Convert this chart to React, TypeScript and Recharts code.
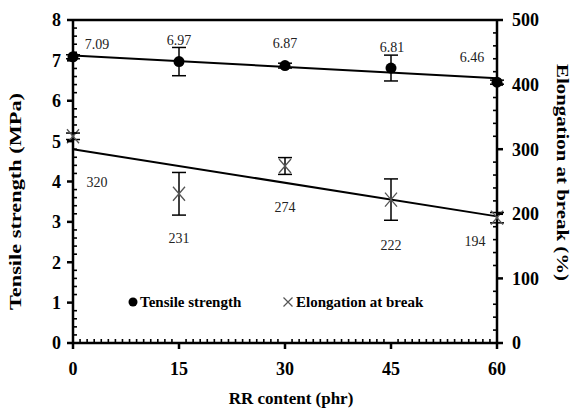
import React from 'react';
import {
  ComposedChart,
  XAxis,
  YAxis,
  Scatter,
  Line,
  ErrorBar,
  LabelList,
  ReferenceLine,
  Legend,
  Label,
} from 'recharts';

// ---- data ----
const rrContent = [0, 15, 30, 45, 60];
const tensileStrength = [7.09, 6.97, 6.87, 6.81, 6.46];
const tensileError = [0.05, 0.35, 0.06, 0.32, 0.05];
const elongation = [320, 231, 274, 222, 194];
const elongationError = [5, 33, 13, 32, 8];
const trendX = [0, 60];
const tensileTrend = [7.12, 6.56];
const elongationTrend = [300, 196];

// ---- ticks (major ticks carry labels, the rest are minor marks) ----
const xMajorTicks = [0, 15, 30, 45, 60];
const leftMajorTicks = [0, 1, 2, 3, 4, 5, 6, 7, 8];
const rightMajorTicks = [0, 100, 200, 300, 400, 500];
const xAllTicks = Array.from({ length: 61 }, (_, i) => i);
const leftAllTicks = Array.from({ length: 41 }, (_, i) => Math.round(i * 2) / 10);
const rightAllTicks = Array.from({ length: 26 }, (_, i) => i * 20);

// ---- label offsets (style) ----
const tsLabelOffset = [
  [24, -12],
  [0, -21],
  [0, -22],
  [1, -21],
  [-25, -25],
];
const elLabelOffset = [
  [24, 46],
  [0, 45],
  [0, 42],
  [0, 46],
  [-22, 24],
];

const tsData = rrContent.map((x, i) => ({ x, y: tensileStrength[i], err: tensileError[i] }));
const elData = rrContent.map((x, i) => ({ x, y: elongation[i], err: elongationError[i] }));
const trendData = trendX.map((x, i) => ({ x, ts: tensileTrend[i], el: elongationTrend[i] }));

const SERIF = '"Liberation Serif", "Times New Roman", serif';
const TICK_SIZE = 6;
const MINOR_SIZE = 4;
const X_MARGIN = 13;
const L_MARGIN = 6;
const R_MARGIN = 9;
const TICK_COLOR = '#000';

const isMajor = (v: number, majors: number[]) => majors.some((m) => Math.abs(m - v) < 1e-6);

const XTick = (p: any) => {
  const v = p.payload.value;
  const ax = Number(p.x);
  const ay = Number(p.y) - TICK_SIZE - X_MARGIN;
  const major = isMajor(v, xMajorTicks);
  return (
    <g>
      <line
        x1={ax}
        x2={ax}
        y1={major ? ay : ay - MINOR_SIZE}
        y2={major ? ay + TICK_SIZE : ay}
        stroke={TICK_COLOR}
        strokeWidth={major ? 2.5 : 1.6}
      />
      {major ? (
        <text x={ax} y={p.y} dy="0.71em" textAnchor="middle" fontFamily={SERIF} fontWeight="bold" fontSize={18} fill="#000">
          {v}
        </text>
      ) : null}
    </g>
  );
};

const LeftTick = (p: any) => {
  const v = p.payload.value;
  const ay = Number(p.y);
  const ax = Number(p.x) + TICK_SIZE + L_MARGIN;
  const major = isMajor(v, leftMajorTicks);
  return (
    <g>
      <line
        x1={major ? ax - TICK_SIZE : ax}
        x2={major ? ax : ax + MINOR_SIZE}
        y1={ay}
        y2={ay}
        stroke={TICK_COLOR}
        strokeWidth={major ? 2.5 : 1.6}
      />
      {major ? (
        <text x={p.x} y={ay} dy="0.355em" textAnchor="end" fontFamily={SERIF} fontWeight="bold" fontSize={18} fill="#000">
          {v}
        </text>
      ) : null}
    </g>
  );
};

const RightTick = (p: any) => {
  const v = p.payload.value;
  const ay = Number(p.y);
  const ax = Number(p.x) - TICK_SIZE - R_MARGIN;
  const major = isMajor(v, rightMajorTicks);
  return (
    <g>
      <line
        x1={major ? ax : ax - MINOR_SIZE}
        x2={major ? ax + TICK_SIZE : ax}
        y1={ay}
        y2={ay}
        stroke={TICK_COLOR}
        strokeWidth={major ? 2.5 : 1.6}
      />
      {major ? (
        <text x={p.x} y={ay} dy="0.355em" textAnchor="start" fontFamily={SERIF} fontWeight="bold" fontSize={18} fill="#000">
          {v}
        </text>
      ) : null}
    </g>
  );
};

const circleShape = (p: any) => <circle cx={p.cx} cy={p.cy} r={5.5} fill="#000" />;
const crossShape = (p: any) => (
  <path
    d={`M${p.cx - 6},${p.cy - 7}L${p.cx + 6},${p.cy + 7}M${p.cx - 6},${p.cy + 7}L${p.cx + 6},${p.cy - 7}`}
    stroke="#555"
    strokeWidth={1.3}
    fill="none"
  />
);

const makeLabel = (offsets: number[][]) => (p: any) => {
  const cx = p.x + (p.width || 0) / 2;
  const cy = p.y + (p.height || 0) / 2;
  const o = offsets[p.index] || [0, 0];
  return (
    <text
      x={cx + o[0]}
      y={cy + o[1]}
      textAnchor="middle"
      dominantBaseline="central"
      fontFamily={SERIF}
      fontSize={14}
      fill="#222"
    >
      {p.value}
    </text>
  );
};

const renderLegend = () => (
  <div style={{ position: 'relative', width: 571, height: 20, fontFamily: SERIF, fontWeight: 'bold', fontSize: 15, color: '#000' }}>
    <div style={{ position: 'absolute', left: 128, top: 0, height: 20, display: 'flex', alignItems: 'center', whiteSpace: 'nowrap' }}>
      <svg width={10} height={10}>
        <circle cx={5} cy={5} r={4.5} fill="#000" />
      </svg>
      <span style={{ marginLeft: 2 }}>Tensile strength</span>
    </div>
    <div style={{ position: 'absolute', left: 283, top: 0, height: 20, display: 'flex', alignItems: 'center', whiteSpace: 'nowrap' }}>
      <svg width={10} height={10}>
        <path d="M0.5,0.5L9.5,9.5M0.5,9.5L9.5,0.5" stroke="#555" strokeWidth={1.2} fill="none" />
      </svg>
      <span style={{ marginLeft: 3 }}>Elongation at break</span>
    </div>
  </div>
);

export default function App() {
  return (
    <div style={{ position: 'absolute', left: 0, top: 0, background: '#fff' }}>
      <ComposedChart width={571} height={419} margin={{ top: 20, right: 0, bottom: 0, left: 0 }}>
        <XAxis
          type="number"
          dataKey="x"
          domain={[0, 60]}
          ticks={xAllTicks}
          interval={0}
          height={76}
          tickSize={TICK_SIZE}
          tickMargin={X_MARGIN}
          axisLine={{ stroke: '#000', strokeWidth: 2.5 }}
          tickLine={{ stroke: 'none' }}
          tick={XTick}
        >
          <Label
            content={(p: any) => {
              const vb = p.viewBox;
              return (
                <text
                  x={vb.x + vb.width / 2 + 6}
                  y={vb.y + 55}
                  textAnchor="middle"
                  dominantBaseline="central"
                  fontFamily={SERIF}
                  fontWeight="bold"
                  fontSize={17}
                  fill="#000"
                >
                  RR content (phr)
                </text>
              );
            }}
          />
        </XAxis>
        <YAxis
          yAxisId="left"
          dataKey="y"
          type="number"
          domain={[0, 8]}
          ticks={leftAllTicks}
          interval={0}
          width={73}
          tickSize={TICK_SIZE}
          tickMargin={L_MARGIN}
          axisLine={{ stroke: '#000', strokeWidth: 2.5 }}
          tickLine={{ stroke: 'none' }}
          tick={LeftTick}
        >
          <Label
            content={(p: any) => {
              const vb = p.viewBox;
              const x = vb.x + 15;
              const y = vb.y + vb.height / 2 + 20;
              return (
                <text
                  x={x}
                  y={y}
                  transform={`rotate(-90 ${x} ${y})`}
                  textAnchor="middle"
                  dominantBaseline="central"
                  fontFamily={SERIF}
                  fontWeight="bold"
                  fontSize={17}
                  fill="#000"
                  textLength={217}
                  lengthAdjust="spacingAndGlyphs"
                >
                  Tensile strength (MPa)
                </text>
              );
            }}
          />
        </YAxis>
        <YAxis
          yAxisId="right"
          orientation="right"
          dataKey="y"
          type="number"
          domain={[0, 500]}
          ticks={rightAllTicks}
          interval={0}
          width={74}
          tickSize={TICK_SIZE}
          tickMargin={R_MARGIN}
          axisLine={{ stroke: '#000', strokeWidth: 2.5 }}
          tickLine={{ stroke: 'none' }}
          tick={RightTick}
        >
          <Label
            content={(p: any) => {
              const vb = p.viewBox;
              const x = vb.x + 65;
              const y = vb.y + vb.height / 2 - 9;
              return (
                <text
                  x={x}
                  y={y}
                  transform={`rotate(90 ${x} ${y})`}
                  textAnchor="middle"
                  dominantBaseline="central"
                  fontFamily={SERIF}
                  fontWeight="bold"
                  fontSize={17}
                  fill="#000"
                  textLength={217}
                  lengthAdjust="spacingAndGlyphs"
                >
                  Elongation at break (%)
                </text>
              );
            }}
          />
        </YAxis>
        <ReferenceLine yAxisId="left" y={8} stroke="#000" strokeWidth={2.5} />

        <Line
          data={trendData}
          dataKey="ts"
          yAxisId="left"
          stroke="#000"
          strokeWidth={2}
          dot={false}
          activeDot={false}
          legendType="none"
          isAnimationActive={false}
        />
        <Line
          data={trendData}
          dataKey="el"
          yAxisId="right"
          stroke="#000"
          strokeWidth={2}
          dot={false}
          activeDot={false}
          legendType="none"
          isAnimationActive={false}
        />
        <Scatter
          name="Tensile strength"
          data={tsData}
          dataKey="y"
          yAxisId="left"
          fill="#000"
          shape={circleShape}
          isAnimationActive={false}
        >
          <ErrorBar dataKey="err" direction="y" width={7} stroke="#000" strokeWidth={1.5} />
          <LabelList dataKey="y" content={makeLabel(tsLabelOffset)} />
        </Scatter>
        <Scatter
          name="Elongation at break"
          data={elData}
          dataKey="y"
          yAxisId="right"
          fill="#555"
          shape={crossShape}
          isAnimationActive={false}
        >
          <ErrorBar dataKey="err" direction="y" width={7} stroke="#000" strokeWidth={1.5} />
          <LabelList dataKey="y" content={makeLabel(elLabelOffset)} />
        </Scatter>
        <Legend
          layout="horizontal"
          verticalAlign="middle"
          align="center"
          wrapperStyle={{ position: 'absolute', left: 0, top: 292, width: 571, height: 20 }}
          content={renderLegend}
        />
      </ComposedChart>
    </div>
  );
}
